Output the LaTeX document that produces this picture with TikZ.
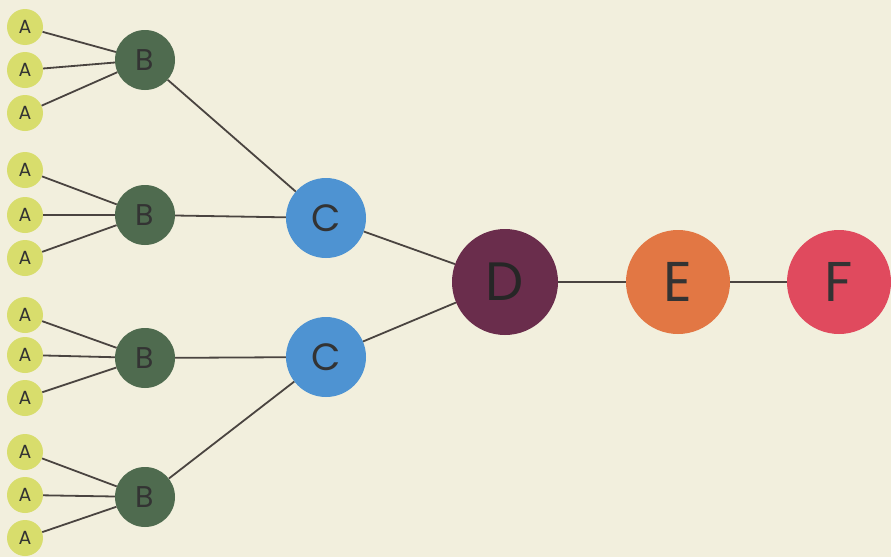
\documentclass[tikz,border=0pt]{standalone}
\usepackage{fontspec}
\setmainfont{Poppins}
\definecolor{bg}{HTML}{F2EFDD}
\definecolor{ca}{HTML}{D8DD6C}
\definecolor{cb}{HTML}{4F6B4F}
\definecolor{cc}{HTML}{4E93D2}
\definecolor{cd}{HTML}{6A2D4C}
\definecolor{ce}{HTML}{E27744}
\definecolor{cf}{HTML}{E04A5E}
\definecolor{ln}{HTML}{4A4440}
\definecolor{tx}{HTML}{333333}
\begin{document}
\begin{tikzpicture}[x=1pt,y=-1pt,
  dot/.style={circle,inner sep=0pt,text=tx},
  na/.style={dot,fill=ca,minimum size=36pt,font=\fontsize{19}{19}\selectfont},
  nb/.style={dot,fill=cb,minimum size=60pt,font=\fontsize{30}{30}\selectfont},
  nc/.style={dot,fill=cc,minimum size=80pt,font=\fontsize{38}{38}\selectfont},
  nd/.style={dot,fill=cd,minimum size=106pt,font=\fontsize{54}{54}\selectfont,text=black!85},
  ne/.style={dot,fill=ce,minimum size=104pt,font=\fontsize{56}{56}\selectfont},
  nf/.style={dot,fill=cf,minimum size=104pt,font=\fontsize{56}{56}\selectfont},
  link/.style={draw=ln,line width=1.8pt}]
\fill[bg] (0,0) rectangle (891,557);
\useasboundingbox (0,0) rectangle (891,557);
% A nodes
\node[na] (a1) at (25,27) {A};
\node[na] (a2) at (25,70) {A};
\node[na] (a3) at (25,113) {A};
\node[na] (a4) at (25,170) {A};
\node[na] (a5) at (25,215) {A};
\node[na] (a6) at (25,258) {A};
\node[na] (a7) at (25,315) {A};
\node[na] (a8) at (25,355) {A};
\node[na] (a9) at (25,398) {A};
\node[na] (a10) at (25,452) {A};
\node[na] (a11) at (25,495) {A};
\node[na] (a12) at (25,538) {A};
% B nodes
\node[nb] (b1) at (145,60) {B};
\node[nb] (b2) at (145,215) {B};
\node[nb] (b3) at (145,358) {B};
\node[nb] (b4) at (145,497) {B};
% C, D, E, F
\node[nc] (c1) at (326,218) {C};
\node[nc] (c2) at (326,357) {C};
\node[nd] (d) at (505,282) {D};
\node[ne] (e) at (678,282) {E};
\node[nf] (f) at (839,282) {F};
% connectors
\begin{scope}[on background layer/.style={}]
\end{scope}
\foreach \a/\b in {a1/b1,a2/b1,a3/b1,a4/b2,a5/b2,a6/b2,a7/b3,a8/b3,a9/b3,a10/b4,a11/b4,a12/b4,b1/c1,b2/c1,b3/c2,b4/c2,c1/d,c2/d,d/e,e/f}
  \draw[link] (\a) -- (\b);
\end{tikzpicture}
\end{document}
